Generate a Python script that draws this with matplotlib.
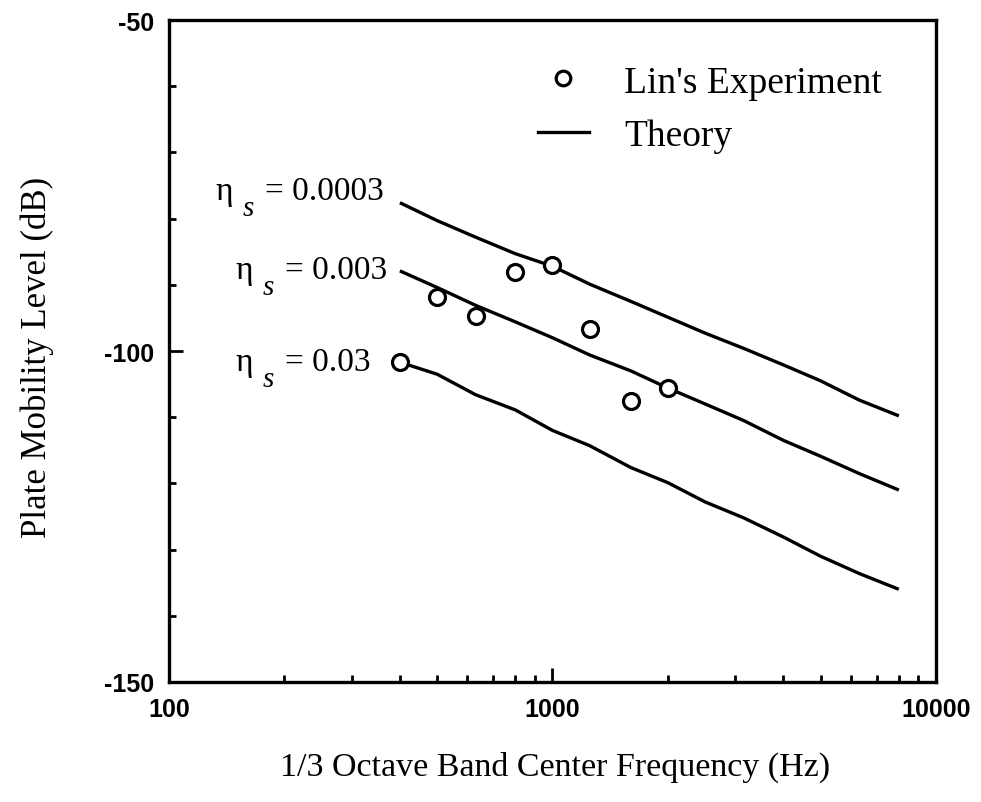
import matplotlib
matplotlib.use("Agg")
import matplotlib.pyplot as plt
from matplotlib.lines import Line2D
from matplotlib.ticker import FixedLocator, NullFormatter

# 1/3 octave band centre frequencies (Hz)
bands = [400, 500, 630, 800, 1000, 1250, 1600, 2000, 2500, 3150, 4000, 5000, 6300, 8000]

# theory curves, plate mobility level (dB)
theory_0003 = [-77.6, -80.3, -82.8, -85.3, -87.2, -89.9, -92.5, -94.9, -97.3, -99.6,
               -102.1, -104.5, -107.4, -109.8]
theory_003 = [-87.9, -90.4, -93.1, -95.6, -98.0, -100.6, -103.0, -105.6, -108.0, -110.5,
              -113.5, -115.9, -118.5, -121.0]
theory_03 = [-101.7, -103.5, -106.6, -108.9, -112.0, -114.3, -117.6, -119.9, -122.8, -125.2,
             -128.1, -131.0, -133.6, -136.0]

# Lin's measurements
exp_freq = [400, 500, 630, 800, 1000, 1250, 1600, 2000]
exp_level = [-101.7, -91.8, -94.7, -88.1, -87.0, -96.7, -107.6, -105.6]

curve_labels = ["0.0003", "0.003", "0.03"]

serif = "Liberation Serif"
sans = "Liberation Sans"

fig = plt.figure(figsize=(9.81, 8.03), dpi=100)
ax = fig.add_axes([169 / 981, 1 - 683 / 803, 767 / 981, 662 / 803])

for curve in [theory_0003, theory_003, theory_03]:
    ax.plot(bands, curve, color="black", lw=2.4, solid_capstyle="butt")

ax.plot(exp_freq, exp_level, linestyle="none", marker="o", ms=11.5,
        mfc="white", mec="black", mew=2.3, zorder=3)

ax.set_xscale("log")
ax.set_xlim(100, 10000)
ax.set_ylim(-150, -50)

ax.set_xticks([100, 1000, 10000])
ax.set_xticklabels(["100", "1000", "10000"])
minor_x = [m * d for d in [100, 1000] for m in range(2, 10)]
ax.xaxis.set_minor_locator(FixedLocator(minor_x))
ax.xaxis.set_minor_formatter(NullFormatter())
ax.set_yticks([-150, -100, -50])
ax.set_yticklabels(["-150", "-100", "-50"])
ax.yaxis.set_minor_locator(FixedLocator(list(range(-140, -50, 10))))

ax.tick_params(which="both", direction="in", top=False, right=False, width=2)
ax.tick_params(which="major", length=10, pad=11, labelsize=18)
ax.tick_params(which="minor", length=5)
for lab in ax.get_xticklabels() + ax.get_yticklabels():
    lab.set_fontfamily(sans)
    lab.set_fontweight("bold")
for sp in ax.spines.values():
    sp.set_linewidth(2.4)

ax.set_xlabel("1/3 Octave Band Center Frequency (Hz)", fontfamily=serif,
              fontsize=24.5, va="center")
ax.xaxis.set_label_coords(0.503, -0.128)
ax.set_ylabel("Plate Mobility Level (dB)", fontfamily=serif, fontsize=25, va="center")
ax.yaxis.set_label_coords(-0.172, 0.492)

# curve labels: eta, subscript s, value
label_pos = [(215, 192), (235, 271), (235, 363)]
for (px, py), val in zip(label_pos, curve_labels):
    fig.text(px / 981, 1 - py / 803, "η", fontfamily=serif, fontsize=24,
             ha="left", va="center")
    fig.text((px + 28) / 981, 1 - (py + 17) / 803, "s", fontfamily=serif,
             fontstyle="italic", fontsize=21, ha="left", va="center")
    fig.text((px + 50) / 981, 1 - py / 803, "= " + val, fontfamily=serif,
             fontsize=24, ha="left", va="center")

handles = [
    Line2D([], [], linestyle="none", marker="o", ms=10.5, mfc="white", mec="black", mew=2.3),
    Line2D([], [], color="black", lw=2.4),
]
leg = ax.legend(handles, ["Lin's Experiment", "Theory"], loc="upper left",
                bbox_to_anchor=(0.481, 0.932), frameon=False, borderpad=0,
                borderaxespad=0, handlelength=1.35, handletextpad=0.95,
                labelspacing=0.5, prop={"family": serif, "size": 27})

fig.savefig("out.png", dpi=100)
